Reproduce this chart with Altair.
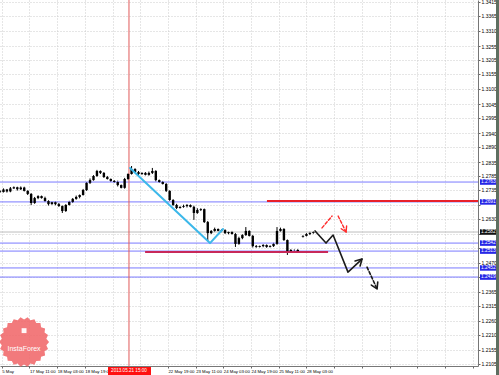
import json
import math
import altair as alt
import pandas as pd

# ---------------- data ----------------
closes = [
    1.2727, 1.2736, 1.2729, 1.2740, 1.2744, 1.2737, 1.2743, 1.2731, 1.2720, 1.2687,
    1.2705, 1.2712, 1.2705, 1.2694, 1.2683, 1.2690, 1.2683, 1.2676, 1.2658, 1.2680,
    1.2691, 1.2702, 1.2709, 1.2716, 1.2734, 1.2760, 1.2770, 1.2785, 1.2803, 1.2796,
    1.2781, 1.2774, 1.2767, 1.2763, 1.2752, 1.2742, 1.2774, 1.2792, 1.2810, 1.2799,
    1.2792, 1.2796, 1.2789, 1.2796, 1.2803, 1.2770, 1.2763, 1.2756, 1.2731, 1.2698,
    1.2680, 1.2669, 1.2673, 1.2676, 1.2680, 1.2673, 1.2651, 1.2662, 1.2665, 1.2618,
    1.2578, 1.2586, 1.2593, 1.2586, 1.2589, 1.2578, 1.2582, 1.2575, 1.2539, 1.2560,
    1.2571, 1.2586, 1.2568, 1.2531, 1.2528, 1.2531, 1.2535, 1.2528, 1.2531, 1.2539,
    1.2586, 1.2593, 1.2553, 1.2513, 1.2517, 1.2517, 1.2513,
    1.2568, 1.2575, 1.2579, 1.2582,
]
wick_up = [
    3, 4, 2, 5, 3, 2, 4, 3, 2, 3,
    4, 3, 2, 5, 3, 2, 3, 4, 2, 3,
    4, 3, 5, 2, 4, 3, 6, 3, 4, 2,
    3, 4, 2, 3, 5, 2, 4, 3, 11, 3,
    4, 2, 3, 5, 11, 3, 2, 4, 3, 2,
    3, 4, 2, 5, 3, 2, 4, 6, 3, 2,
    4, 3, 5, 2, 4, 3, 2, 4, 3, 5,
    3, 14, 2, 3, 4, 2, 3, 2, 3, 4,
    14, 5, 3, 2, 3, 2, 3, 2, 3, 4,
    3,
]
wick_dn = [
    3, 2, 4, 3, 2, 5, 3, 2, 4, 7,
    3, 4, 2, 3, 5, 2, 4, 3, 7, 3,
    2, 4, 3, 5, 2, 3, 4, 2, 3, 4,
    3, 2, 4, 3, 5, 2, 3, 4, 2, 3,
    4, 3, 2, 3, 4, 5, 3, 2, 4, 3,
    3, 4, 2, 3, 5, 2, 25, 3, 4, 3,
    29, 3, 4, 2, 5, 3, 4, 2, 11, 3,
    4, 3, 2, 5, 3, 2, 4, 3, 2, 3,
    3, 4, 3, 14, 2, 4, 3, 3, 2, 4,
    3,
]
candle_bars = list(range(0, 173, 2)) + [175, 177, 179, 181]
first_open = 1.2730
gap_open = 1.2565

y_ticks = [1.3415, 1.3365, 1.3310, 1.3255, 1.3205, 1.3155, 1.3100, 1.3045, 1.2995,
           1.2940, 1.2890, 1.2835, 1.2785, 1.2735, 1.2680, 1.2630, 1.2575, 1.2525,
           1.2470, 1.2420, 1.2365, 1.2315, 1.2260, 1.2210, 1.2155, 1.2105]
y_ticks_covered = [1.2680, 1.2575, 1.2525, 1.2420]
x_ticks = [1, 17, 33, 49, 65, 81, 97, 113, 129, 145, 161, 177, 193, 209, 225, 241, 257, 273]
x_tick_labels = ["5 May", "17 May 11:00", "18 May 03:00", "18 May 19:00", "",
                 "", "22 May 19:00", "23 May 11:00", "24 May 03:00",
                 "24 May 19:00", "25 May 11:00", "28 May 03:00"]

blue_levels = [1.2763, 1.2691, 1.2542, 1.2513, 1.2452, 1.2419]
current_price = 1.2582

red_level = [1.2694]
red_span = [154.2, 276.1]
support_level = [1.2510]
support_span = [83.8, 189.5]

marker_bar = 74.5
marker_label = "2013.05.21 15:00"

cyan_bars = [75.1, 121.3, 128.8]
cyan_prices = [1.2814, 1.2542, 1.2593]

black_bars = [182.0, 188.3, 192.4, 201.0, 209.1]
black_prices = [1.2586, 1.2542, 1.2571, 1.2437, 1.2484]
black_head_bars = [205.1, 209.1, 208.0]
black_head_prices = [1.2477, 1.2484, 1.2459]

dash_bars = [212.0, 217.8]
dash_prices = [1.2455, 1.2376]
dash_head_bars = [214.5, 217.8, 218.2]
dash_head_prices = [1.2390, 1.2376, 1.2401]

red1_bars = [186.0, 191.8]
red1_prices = [1.2597, 1.2640]
red2_bars = [195.3, 199.9]
red2_prices = [1.2640, 1.2582]
red_head_bars = [197.1, 199.9, 200.2]
red_head_prices = [1.2594, 1.2582, 1.2604]

logo_bar = [13.9]
logo_price = [1.2184]
logo_text = "InstaForex"
logo_text_price = [1.2160]
logo_icon_price = [1.2225]

# ---------------- build tables ----------------
opens = [first_open] + closes[:-1]
opens[87] = gap_open
candles = pd.DataFrame({
    "bar": candle_bars,
    "open": opens,
    "close": closes,
    "high": [max(o, c) + u / 10000 for o, c, u in zip(opens, closes, wick_up)],
    "low": [min(o, c) - d / 10000 for o, c, d in zip(opens, closes, wick_dn)],
})

FONT = "Liberation Sans"
xs = alt.Scale(domain=[0, 276.1], nice=False, zero=False)
ys = alt.Scale(domain=[1.2097, 1.3422], nice=False, zero=False)

x_label_expr = json.dumps(x_tick_labels) + "[round((datum.value - 1) / 16)] || ''"
y_label_expr = ("indexof(" + json.dumps(y_ticks_covered) +
                ", datum.value) >= 0 ? '' : format(datum.value, '.4f')")
x_axis = alt.Axis(orient="bottom", values=x_ticks, labelExpr=x_label_expr, labelAlign="left",
                  labelFontSize=4.3, labelFont=FONT, labelColor="#000", labelPadding=1,
                  tickSize=2, tickColor="#666", domainColor="#777", grid=True,
                  gridColor="#cccccc", gridDash=[1, 2], labelOverlap=False,
                  labelFlush=False, labelBound=False, title=None)
y_axis = alt.Axis(orient="right", values=y_ticks, labelExpr=y_label_expr, labelFontSize=5,
                  labelFont=FONT, labelColor="#000", labelPadding=1, tickSize=2,
                  tickColor="#666", domainColor="#777", grid=True, gridColor="#cccccc",
                  gridDash=[1, 2], labelOverlap=False, labelFlush=False,
                  labelBound=False, title=None)


def X(field):
    return alt.X(field, type="quantitative", scale=xs, axis=x_axis)


def Y(field):
    return alt.Y(field, type="quantitative", scale=ys, axis=y_axis)


# grid/axes + candles
wicks = alt.Chart(candles).mark_rule(color="#000", strokeWidth=1).encode(
    x=X("bar"), y=Y("low"), y2="high")
bodies = alt.Chart(candles).mark_rule(color="#000", strokeWidth=2.4).encode(
    x=X("bar"), y=Y("open"), y2="close")

levels_df = pd.DataFrame({"price": blue_levels,
                          "label": [f"{p:.4f}" for p in blue_levels]})
level_lines = alt.Chart(levels_df).mark_rule(color="#7a7aff", strokeWidth=1).encode(
    y=Y("price"))

cur_df = pd.DataFrame({"price": [current_price], "label": [f"{current_price:.4f}"]})
cur_line = alt.Chart(cur_df).mark_rule(color="#bdbdbd", strokeWidth=1).encode(y=Y("price"))

marker_df = pd.DataFrame({"bar": [marker_bar], "label": [marker_label]})
marker_line = alt.Chart(marker_df).mark_rule(color="#e05a5a", strokeWidth=1).encode(x=X("bar"))

red_df = pd.DataFrame({"bar": [red_span[0]], "bar2": [red_span[1]], "price": red_level})
red_line = alt.Chart(red_df).mark_rule(color="#e8202a", strokeWidth=2).encode(
    x=X("bar"), x2="bar2", y=Y("price"))

sup_df = pd.DataFrame({"bar": [support_span[0]], "bar2": [support_span[1]],
                       "price": support_level})
sup_line = alt.Chart(sup_df).mark_rule(color="#c8285a", strokeWidth=2).encode(
    x=X("bar"), x2="bar2", y=Y("price"))


def path(bars, prices, color, width, dash=None):
    df = pd.DataFrame({"bar": bars, "price": prices, "order": list(range(len(bars)))})
    kw = dict(color=color, strokeWidth=width, strokeCap="round", strokeJoin="round")
    if dash:
        kw["strokeDash"] = dash
    return alt.Chart(df).mark_line(**kw).encode(
        x=X("bar"), y=Y("price"), order="order:Q")


cyan = path(cyan_bars, cyan_prices, "#3cb8ea", 2)
black = path(black_bars, black_prices, "#1a1a1a", 1.6)
black_head = path(black_head_bars, black_head_prices, "#1a1a1a", 1.6)
dashed = path(dash_bars, dash_prices, "#1a1a1a", 1.6, [3, 2])
dashed_head = path(dash_head_bars, dash_head_prices, "#1a1a1a", 1.6)
red1 = path(red1_bars, red1_prices, "#ff2a2a", 1.4, [3, 2])
red2 = path(red2_bars, red2_prices, "#ff2a2a", 1.4, [3, 2])
red_head = path(red_head_bars, red_head_prices, "#ff2a2a", 1.4)

# price label boxes on the right axis
box_lab = alt.Chart(levels_df).transform_calculate(
    lo="datum.price - 0.00100", hi="datum.price + 0.00100").mark_rect(
    color="#2626e6").encode(x=alt.value(480), x2=alt.value(497), y=Y("lo"), y2="hi:Q")
box_txt = alt.Chart(levels_df).mark_text(align="left", baseline="middle", fontSize=4.8,
                                         font=FONT, color="white").encode(
    x=alt.value(481), y=Y("price"), text="label:N")
cur_box = alt.Chart(cur_df).transform_calculate(
    lo="datum.price - 0.00100", hi="datum.price + 0.00100").mark_rect(
    color="#111").encode(x=alt.value(480), x2=alt.value(497), y=Y("lo"), y2="hi:Q")
cur_txt = alt.Chart(cur_df).mark_text(align="left", baseline="middle", fontSize=4.8,
                                      font=FONT, color="white").encode(
    x=alt.value(481), y=Y("price"), text="label:N")

# time marker label
time_box = alt.Chart(marker_df).mark_rect(color="#ff1010").encode(
    x=alt.value(108), x2=alt.value(151), y=alt.value(367), y2=alt.value(375))
time_txt = alt.Chart(marker_df).mark_text(align="center", baseline="middle", fontSize=4.6,
                                          font=FONT, color="white").encode(
    x=X("bar"), y=alt.value(371), text="label:N")

# right edge strip
strip = alt.Chart(marker_df).mark_rect(color="#5e6e60").encode(
    x=alt.value(496), x2=alt.value(499), y=alt.value(0), y2=alt.value(375))

# InstaForex badge
n = 22
pts = []
for i in range(2 * n):
    r = 1.0 if i % 2 == 0 else 0.9
    a = math.pi * i / n
    pts.append(f"{r * math.cos(a):.3f},{r * math.sin(a):.3f}")
star = "M" + " L".join(pts) + " Z"
logo_df = pd.DataFrame({"bar": logo_bar, "price": logo_price})
logo = alt.Chart(logo_df).mark_point(shape=star, filled=True, size=2500, color="#f0686a",
                                     opacity=0.88, strokeWidth=0).encode(
    x=X("bar"), y=Y("price"))
icon_df = pd.DataFrame({"bar": logo_bar, "price": logo_icon_price})
icon = alt.Chart(icon_df).mark_point(shape="square", filled=True, size=24, color="white",
                                     opacity=0.95).encode(x=X("bar"), y=Y("price"))
logo_txt_df = pd.DataFrame({"bar": logo_bar, "price": logo_text_price, "t": [logo_text]})
logo_txt = alt.Chart(logo_txt_df).mark_text(fontSize=7, font=FONT, color="white",
                                            align="center", baseline="middle").encode(
    x=X("bar"), y=Y("price"), text="t:N")

chart = alt.layer(
    wicks, level_lines, cur_line, marker_line, red_line, sup_line, bodies,
    cyan, black, black_head, dashed, dashed_head, red1, red2, red_head,
    logo, icon, logo_txt,
    box_lab, box_txt, cur_box, cur_txt, time_box, time_txt, strip,
).properties(
    width=478, height=366,
    padding={"left": 0, "top": 0, "right": 21, "bottom": 9},
    autosize=alt.AutoSizeParams(type="none"),
    background="white",
).configure_view(strokeWidth=0)

chart.save("out.html", embed_options={"renderer": "svg", "actions": False})
